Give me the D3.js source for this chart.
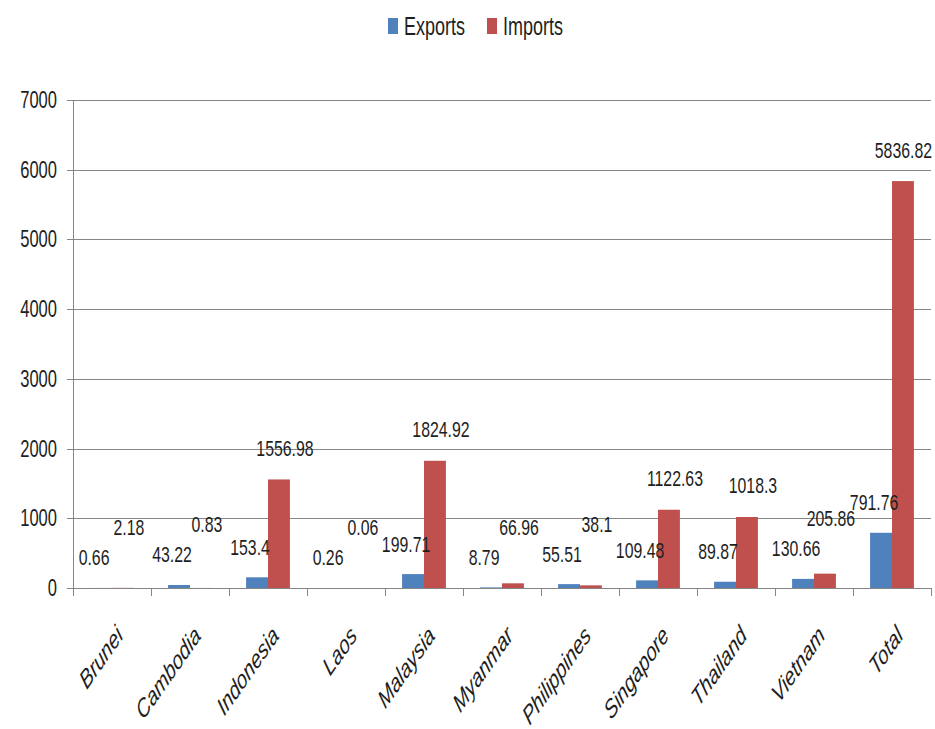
<!DOCTYPE html>
<html>
<head>
<meta charset="utf-8">
<script src="https://cdn.jsdelivr.net/npm/d3@7"></script>
<style>
  html, body { margin: 0; padding: 0; background: #fff; }
  svg { display: block; }
  .lbl { font-family: "Liberation Sans", Arial, sans-serif; fill: #1e1e1e; }
</style>
</head>
<body>
<svg id="chart" width="935" height="729"></svg>
<script>
// ── Datos ────────────────────────────────────────────────────────
const categories = ["Brunei", "Cambodia", "Indonesia", "Laos", "Malaysia", "Myanmar",
  "Philippines", "Singapore", "Thailand", "Vietnam", "Total"];
const exportsVals = [0.66, 43.22, 153.4, 0.26, 199.71, 8.79, 55.51, 109.48, 89.87, 130.66, 791.76];
const importsVals = [2.18, 0.83, 1556.98, 0.06, 1824.92, 66.96, 38.1, 1122.63, 1018.3, 205.86, 5836.82];
const seriesNames = ["Exports", "Imports"];
const seriesColors = ["#4F81BD", "#C0504D"];
const yTicks = [0, 1000, 2000, 3000, 4000, 5000, 6000, 7000];

// ── Layout ───────────────────────────────────────────────────────
const W = 935;
const plotL = 73, plotR = 931, plotT = 100, plotB = 588;
const gridColor = "#868686";
const SQ = 0.72;   // la imagen original está comprimida en horizontal

const svg = d3.select("#chart");

const x = d3.scaleBand().domain(categories).range([plotL, plotR]).padding(0);
const xs = d3.scaleBand().domain(seriesNames).range([0, x.bandwidth()])
  .paddingInner(0).paddingOuter(0.78);
const y = d3.scaleLinear().domain([0, 7000]).range([plotB, plotT]);

// texto "angosto": translate + scale horizontal
function narrowText(parent, tx, ty, str, size, anchor) {
  return parent.append("text")
    .attr("class", "lbl")
    .attr("transform", `translate(${tx},${ty}) scale(${SQ},1)`)
    .attr("text-anchor", anchor)
    .attr("dominant-baseline", "central")
    .attr("font-size", size)
    .text(str);
}

// ── Grid + eje Y ─────────────────────────────────────────────────
svg.append("g").selectAll("line")
  .data(yTicks)
  .join("line")
  .attr("x1", plotL - 6).attr("x2", plotR)
  .attr("y1", d => Math.round(y(d)) + 0.5).attr("y2", d => Math.round(y(d)) + 0.5)
  .attr("stroke", gridColor).attr("stroke-width", 1);

svg.append("line")
  .attr("x1", plotL + 0.5).attr("x2", plotL + 0.5)
  .attr("y1", plotT).attr("y2", plotB)
  .attr("stroke", gridColor);

const yLab = svg.append("g");
yTicks.forEach(t => narrowText(yLab, plotL - 16, y(t), t, 23, "end"));

// ── Ticks eje X ──────────────────────────────────────────────────
const bounds = categories.map(c => x(c)).concat([x(categories[categories.length - 1]) + x.bandwidth()]);
svg.append("g").selectAll("line")
  .data(bounds)
  .join("line")
  .attr("x1", d => Math.round(d) + 0.5).attr("x2", d => Math.round(d) + 0.5)
  .attr("y1", plotB).attr("y2", plotB + 8)
  .attr("stroke", gridColor);

// ── Barras ───────────────────────────────────────────────────────
const rows = categories.map((c, i) => ({cat: c, vals: [exportsVals[i], importsVals[i]]}));

const grp = svg.append("g").selectAll("g")
  .data(rows)
  .join("g")
  .attr("transform", d => `translate(${x(d.cat)},0)`);

grp.selectAll("rect")
  .data(d => d.vals.map((v, k) => ({k, v})))
  .join("rect")
  .attr("x", d => xs(seriesNames[d.k]))
  .attr("y", d => y(d.v))
  .attr("width", xs.bandwidth())
  .attr("height", d => plotB - y(d.v))
  .attr("fill", d => seriesColors[d.k]);

// ── Etiquetas de datos ───────────────────────────────────────────
grp.each(function(d) {
  const g = d3.select(this);
  const ey = y(d.vals[0]) - 30;
  let iy = y(d.vals[1]) - 31;
  if (Math.abs(iy - ey) < 26) iy = ey - 30;   // evitar que se encimen
  const ex = xs("Exports") + xs.bandwidth() / 2 - 7;
  let ix = xs("Imports") + xs.bandwidth() / 2 + 6;
  narrowText(g, ex, ey, d.vals[0], 22, "middle");
  const t = narrowText(g, ix, iy, d.vals[1], 22, "middle");
  // que no se salga por la derecha
  const half = t.node().getComputedTextLength() * SQ / 2;
  const over = x(d.cat) + ix + half - (W - 3);
  if (over > 0) t.attr("transform", `translate(${ix - over},${iy}) scale(${SQ},1)`);
});

// ── Etiquetas de categoría ───────────────────────────────────────
svg.append("g").selectAll("text")
  .data(categories)
  .join("text")
  .attr("class", "lbl")
  .attr("font-style", "italic")
  .attr("font-size", 26)
  .attr("text-anchor", "end")
  .attr("transform", c => `translate(${x(c) + x.bandwidth() / 2 + 12},${plotB + 49}) scale(0.7,1) rotate(-45)`)
  .text(c => c);

// ── Leyenda ──────────────────────────────────────────────────────
const legendX = [388, 487];
seriesNames.forEach((s, k) => {
  svg.append("rect")
    .attr("x", legendX[k]).attr("y", 18)
    .attr("width", 10).attr("height", 16)
    .attr("fill", seriesColors[k]);
  narrowText(svg, legendX[k] + 16, 26, s, 25, "start");
});
</script>
</body>
</html>
